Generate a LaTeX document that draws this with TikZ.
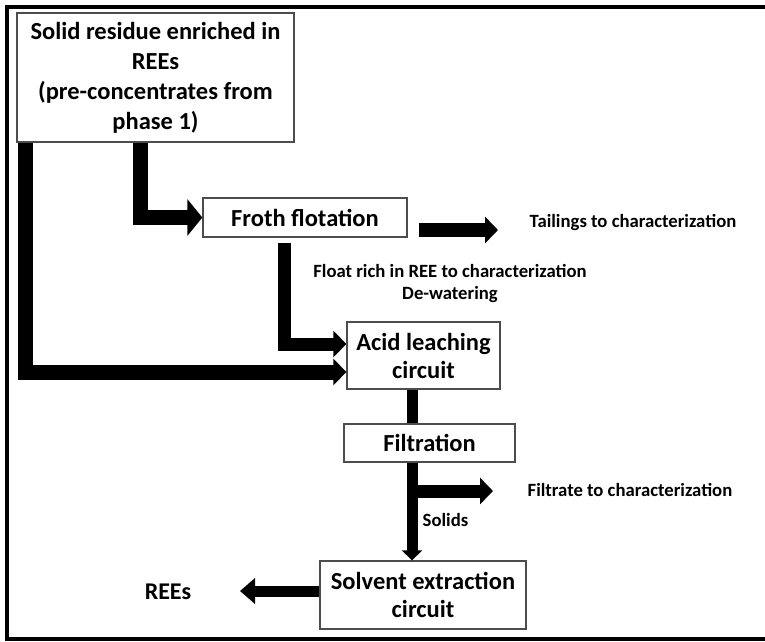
\documentclass[tikz,border=0pt]{standalone}
\usepackage{fontspec}
\setmainfont{Carlito}
\usetikzlibrary{arrows.meta}

\begin{document}
\begin{tikzpicture}[x=1pt,y=-1pt,
    stage/.style={draw=black!70, line width=1.3pt, fill=white, inner sep=0pt,
                  align=center, font=\bfseries\fontsize{24.5}{28}\selectfont},
    note/.style={inner sep=0pt, align=center, font=\bfseries\fontsize{18.7}{22}\selectfont},
    flow/.style={line width=14pt, -{Triangle[width=26pt,length=13pt]}},
    pipe/.style={line width=11pt}]

            \useasboundingbox (0,0) rectangle (765,641);
            \draw[line width=4pt] (765,7) -- (7,7) -- (7,639) -- (765,639);

            \node[stage, minimum width=277pt, minimum height=129pt, font=\bfseries\fontsize{24.5}{30}\selectfont]
                (src) at (155.5,77.5) {Solid residue enriched in\\REEs\\(pre-concentrates from\\phase 1)};
            \node[stage, minimum width=204pt, minimum height=39pt] (froth) at (305,217.5) {Froth flotation};
            \node[stage, minimum width=153pt, minimum height=67pt] (acid)  at (423.5,355.5) {Acid leaching\\circuit};
            \node[stage, minimum width=171pt, minimum height=38pt] (filt)  at (429.5,443) {Filtration};
            \node[stage, minimum width=206pt, minimum height=68pt] (solv)  at (423,595) {Solvent extraction\\circuit};

            \node[note] (tail)  at (633,223) {Tailings to characterization};
            \node[note] (float) at (450,284) {Float rich in REE to characterization\\De-watering};
            \node[note] (filtr) at (630,490) {Filtrate to characterization};
            \node[note] (solid) at (445.5,520) {Solids};
            \node[note, font=\bfseries\fontsize{24}{28}\selectfont] (rees) at (168,592) {REEs};

            \coordinate (tailend) at (498,230);
            \coordinate (fbr)     at (412,491);
            \coordinate (fend)    at (493,491);
            \coordinate (reeend)  at (240,591);

            \draw[flow, line width=15pt, -{Triangle[width=36pt,length=15pt]}] ([xshift=-15.5pt]src.south) |- (froth);
            \draw[flow, line width=15pt] ([xshift=9pt]src.south west) |- ([yshift=-16.5pt]acid.west);
            \draw[flow, line width=13pt] ([xshift=-21pt,yshift=-5pt]froth.south) |- ([yshift=11.5pt]acid.west);
            \draw[flow] ([xshift=11pt,yshift=-12.5pt]froth.east) -- (tailend);

            \draw[pipe] ([xshift=-11.5pt]acid.south) -- ([xshift=-17.5pt]filt.north);
            \draw[pipe, -{Triangle[width=20pt,length=10pt]}] ([xshift=-17.5pt]filt.south) -- ([xshift=-11pt]solv.north);
            \draw[flow, line width=13pt] (fbr) -- (fend);
            \draw[flow, line width=11pt, -{Triangle[width=25pt,length=15pt]}] ([yshift=4pt]solv.west) -- (reeend);
        \end{tikzpicture}
\end{document}
